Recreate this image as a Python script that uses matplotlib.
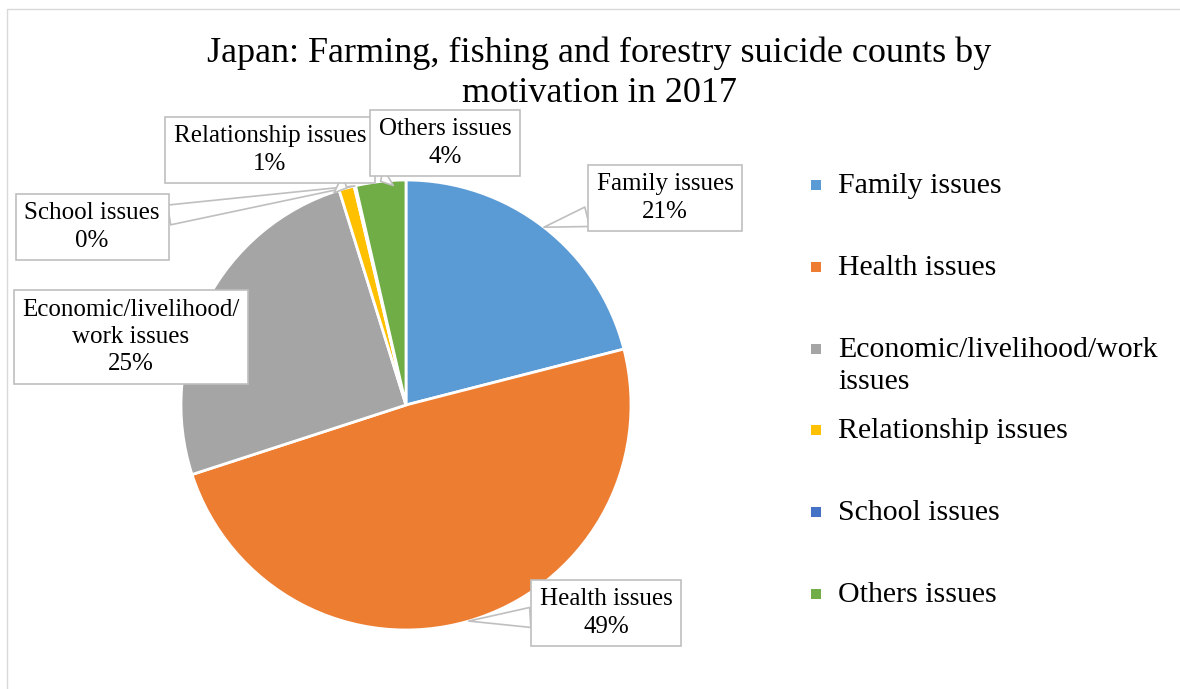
import numpy as np
import matplotlib.pyplot as plt
from matplotlib.patches import Rectangle

plt.rcParams['font.family'] = ['Liberation Serif', 'DejaVu Serif']

# Share of suicides by motivation (percent)
categories = ["Family issues", "Health issues", "Economic/livelihood/work issues",
              "Relationship issues", "School issues", "Others issues"]
values = [21.0, 49.0, 25.2, 1.1, 0.1, 3.6]
colors = ["#5B9BD5", "#ED7D31", "#A5A5A5", "#FFC000", "#4472C4", "#70AD47"]

# text shown on the callouts
label_names = ["Family issues", "Health issues", "Economic/livelihood/\nwork issues",
               "Relationship issues", "School issues", "Others issues"]
legend_names = ["Family issues", "Health issues", "Economic/livelihood/work\nissues",
                "Relationship issues", "School issues", "Others issues"]

W, H = 1180, 689
fig = plt.figure(figsize=(W / 100, H / 100), dpi=100)

# thin outer frame
fig.patches.append(Rectangle((7 / W, -0.1), 1.2, 1.1 - 9 / H, transform=fig.transFigure,
                             fill=False, ec="#d9d9d9", lw=1.0))

cx, cy, r = 406, 405, 225
ax = fig.add_axes([(cx - r) / W, (H - cy - r) / H, 2 * r / W, 2 * r / H])
wedges, _ = ax.pie(values, colors=colors, startangle=90, counterclock=False,
                   wedgeprops=dict(edgecolor="white", linewidth=2))
ax.set_xlim(-1, 1)
ax.set_ylim(-1, 1)
ax.set_aspect("equal")


def to_data(px, py):
    return (px - cx) / r, (cy - py) / r


fig.text(0.508, 1 - 73 / H, "Japan: Farming, fishing and forestry suicide counts by\nmotivation in 2017",
         ha="center", va="center", fontsize=26, linespacing=1.3)

# callout box centres in pixel space
box_pos = {0: (665, 198), 1: (606, 613), 2: (131, 337),
           3: (270, 150), 4: (92, 227), 5: (445, 143)}
pointer = {0: True, 1: True, 2: False, 3: True, 4: True, 5: True}

total = sum(values)
for i in [0, 1, 2, 4, 3, 5]:
    w = wedges[i]
    mid = np.deg2rad((w.theta1 + w.theta2) / 2)
    tip = (np.cos(mid), np.sin(mid))
    txt = f"{label_names[i]}\n{values[i] / total * 100:.0f}%"
    bbox = dict(boxstyle="square,pad=0.35", fc="white", ec="#bfbfbf", lw=1.2)
    if pointer[i]:
        ax.annotate(txt, xy=tip, xytext=to_data(*box_pos[i]), ha="center", va="center",
                    fontsize=18, linespacing=1.3, bbox=bbox, annotation_clip=False,
                    arrowprops=dict(arrowstyle="wedge,tail_width=0.8", fc="white",
                                    ec="#bfbfbf", lw=1.2, shrinkA=0, shrinkB=0))
    else:
        ax.text(*to_data(*box_pos[i]), txt, ha="center", va="center", fontsize=18,
                linespacing=1.3, bbox=bbox)

# legend on the right
leg_y = [185, 267, 349, 430, 512, 594]
for name, col, y in zip(legend_names, colors, leg_y):
    fig.patches.append(Rectangle((811 / W, 1 - (y + 5) / H), 10 / W, 10 / H,
                                 transform=fig.transFigure, fc=col, ec="none"))
    fig.text(838 / W, 1 - (y - 12) / H, name, ha="left", va="top", fontsize=21.5,
             linespacing=1.3)

fig.savefig("out.png", dpi=100)
